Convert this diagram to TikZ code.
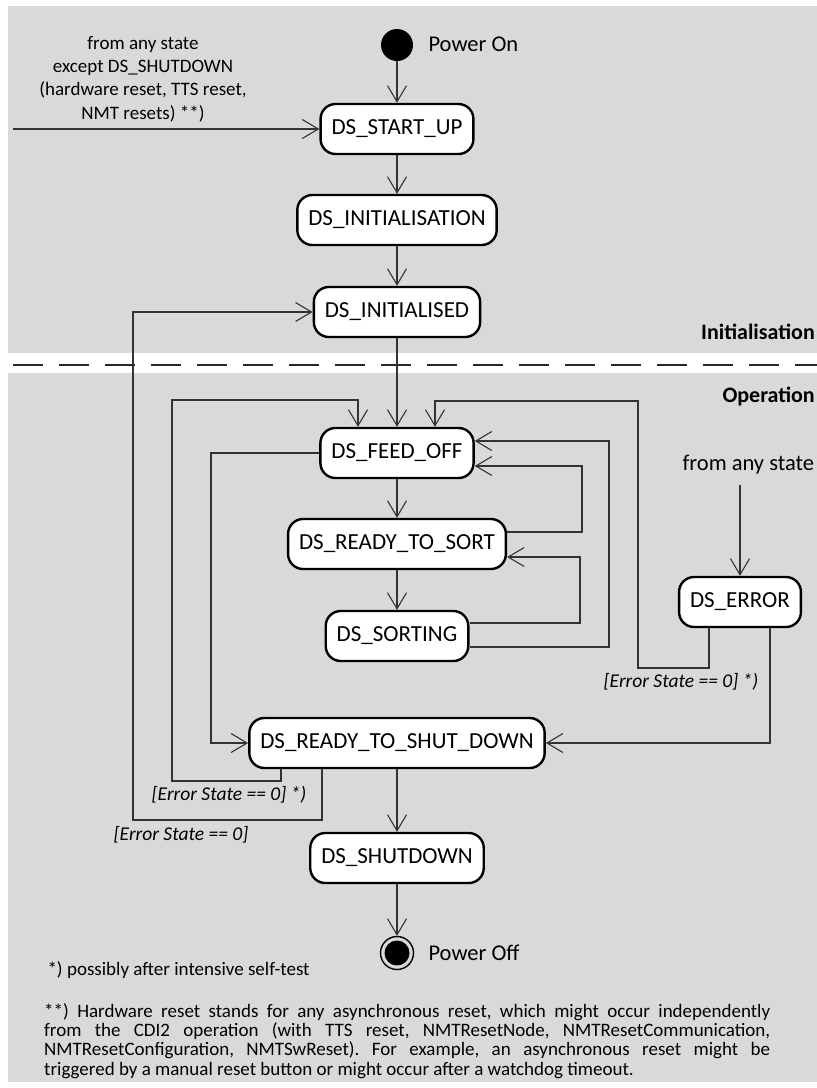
\documentclass[tikz,border=0pt]{standalone}
\usepackage{fontspec}
\setmainfont{Carlito}
\usetikzlibrary{arrows.meta, calc}
\definecolor{panelgray}{HTML}{D9D9D9}
\definecolor{linegray}{HTML}{333333}
\frenchspacing

\begin{document}
\begin{tikzpicture}[x=1pt, y=-1pt, >={Straight Barb[length=16pt,width=19pt]},
    state/.style={draw, line width=2.4pt, fill=white, rounded corners=15pt,
      minimum height=50pt, inner xsep=11pt, font=\fontsize{23}{27}\selectfont},
    flow/.style={->, draw=linegray, line width=1.1pt},
    guard/.style={font=\fontsize{19.5}{23}\selectfont\itshape},
    section/.style={anchor=east, inner xsep=1pt, font=\fontsize{22}{26}\selectfont\bfseries}]
        \useasboundingbox (0,0) rectangle (817,1088);
        \clip (0,0) rectangle (817,1088);

        % the two regions
        \fill[panelgray] (8,6) rectangle (830,353);
        \fill[panelgray] (8,373) rectangle (830,1082);
        \draw[line width=2.5pt, black!85, dash pattern=on 30pt off 16pt] (13,365) -- (830,365);
        \node[section] (initlabel) at (816,332) {Initialisation};
        \node[section] (oplabel) at (816,396) {Operation};

        % pseudo states
        \node[circle, fill=black, minimum size=32pt, inner sep=0] (poweron) at (397,45) {};
        \node[anchor=west, font=\fontsize{22.5}{26}\selectfont] (poweronlabel) at (425,44) {Power On};
        \node[circle, draw, line width=1.4pt, minimum size=33pt, inner sep=0] (poweroff) at (397,953) {};
        \node[circle, fill=black, minimum size=25pt, inner sep=0] (poweroffdot) at (poweroff.center) {};
        \node[anchor=west, font=\fontsize{22.5}{26}\selectfont] (powerofflabel) at (425,953) {Power Off};

        % states
        \node[state] (start) at (397,129) {DS\_START\_UP};
        \node[state] (init) at (397,220) {DS\_INITIALISATION};
        \node[state] (inited) at (397,312) {DS\_INITIALISED};
        \node[state] (feedoff) at (397,453) {DS\_FEED\_OFF};
        \node[state] (rts) at (397,544) {DS\_READY\_TO\_SORT};
        \node[state] (sorting) at (397,636) {DS\_SORTING};
        \node[state] (error) at (740,602) {DS\_ERROR};
        \node[state] (rtsd) at (397,743) {DS\_READY\_TO\_SHUT\_DOWN};
        \node[state] (shutdown) at (397,858) {DS\_SHUTDOWN};

        % reset from anywhere
        \node[align=center, font=\fontsize{19}{23.3}\selectfont] (resetnote) at (143,79)
          {from any state\\except DS\_SHUTDOWN\\(hardware reset, TTS reset,\\NMT resets) **)};
        \coordinate (resetin) at (13,129);
        \draw[flow] (resetin) -- (start);

        % main line
        \draw[flow] (poweron) -- (start);
        \draw[flow] (start) -- (init);
        \draw[flow] (init) -- (inited);
        \draw[flow] (inited) -- (feedoff);
        \draw[flow] (feedoff) -- (rts);
        \draw[flow] (rts) -- (sorting);
        \draw[flow] (rtsd) -- (shutdown);
        \draw[flow] (shutdown) -- (poweroff);

        % back from DS_READY_TO_SHUT_DOWN
        \draw[flow] ($(rtsd.south)+(-75,0)$) |- (133,820) |- (inited.west);
        \node[guard] (guardinit) at (181,835) {[Error State == 0]};
        \draw[flow] ($(rtsd.south)+(-116,0)$) |- (172,781) -- (172,400)
          -| ($(feedoff.north)+(-39,0)$);
        \node[guard] (guardfeed) at (229,795) {[Error State == 0] *)};
        \draw[flow] (feedoff.west) -| (211,743) -- (rtsd.west);

        % loops on the right
        \draw[flow] ($(rts.east)+(0,-12)$) -| (582,466) -- ($(feedoff.east)+(0,13)$);
        \draw[flow] ($(sorting.east)+(0,-13)$) -| (580,557) -- ($(rts.east)+(0,13)$);
        \draw[flow] ($(sorting.east)+(0,11)$) -| (609,441) -- ($(feedoff.east)+(0,-12)$);

        % error handling
        \node[anchor=west, font=\fontsize{22.5}{27}\selectfont] (anystate) at (679,465) {from any state};
        \coordinate (errorin) at (740,485);
        \draw[flow] (errorin) -- (error);
        \draw[flow] ($(error.south)+(-31,0)$) |- (638,668) |- (435,401)
          -- ($(feedoff.north)+(38,0)$);
        \node[guard] (guarderror) at (681,682) {[Error State == 0] *)};
        \draw[flow] ($(error.south)+(30,0)$) |- (rtsd.east);

        % notes
        \node[anchor=west, font=\fontsize{19}{22}\selectfont] (selftest) at (44,970)
          {*) possibly after intensive self-test};
        \node[anchor=north west, inner sep=0, text width=726pt, align=justify,
          font=\fontsize{19}{19.4}\selectfont] (hwnote) at (44,1003)
          {**) Hardware reset stands for any asynchronous reset, which might occur independently\linebreak
           from the CDI2 operation (with TTS reset, NMTResetNode, NMTResetCommunication,\linebreak
           NMTResetConfiguration, NMTSwReset). For example, an asynchronous reset might be\linebreak
           triggered by a manual reset button or might occur after a watchdog timeout.};
\end{tikzpicture}
\end{document}
